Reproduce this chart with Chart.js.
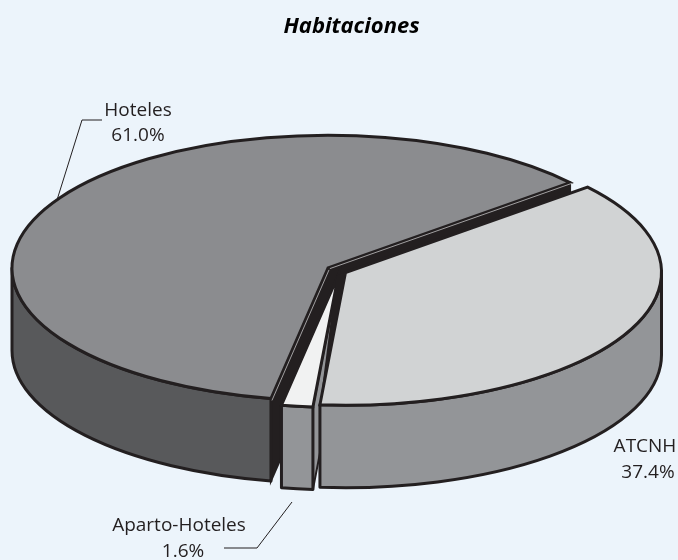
<!DOCTYPE html>
<html>
<head>
<meta charset="utf-8">
<style>
  html, body { margin: 0; padding: 0; background: #ecf4fb; }
  canvas { display: block; }
</style>
<script src="https://cdn.jsdelivr.net/npm/chart.js@4/dist/chart.umd.min.js"></script>
</head>
<body>
<canvas id="pieChart" width="678" height="560"></canvas>
<script>
const categories = ['ATCNH', 'Aparto-Hoteles', 'Hoteles'];
const shares = [37.4, 1.6, 61.0];
const titleText = 'Habitaciones';

const ink = '#231f20';
const textFont = '"Open Sans", "Noto Sans", sans-serif';

// the pie is flattened with a canvas transform, walls are drawn around it
const tilt = 0.42;
const wallHeight = 82.5;
// where each slice's tip sits on the page (exploded slices)
const tips = [[345.5, 272.5], [338.5, 274.6], [328, 268]];

function sliceGeom(arc, i) {
    const cx = tips[i][0];
    const cy = tips[i][1];
    const r = arc.outerRadius;
    return {
        cx, cy, r,
        a0: arc.startAngle,
        a1: arc.endAngle,
        rim: a => [cx + r * Math.cos(a), cy + r * tilt * Math.sin(a)]
    };
}

function frontWall(ctx, g, fill) {
    const a0 = Math.max(g.a0, 0);
    const a1 = Math.min(g.a1, Math.PI);
    if (a1 <= a0) return;
    ctx.beginPath();
    ctx.ellipse(g.cx, g.cy, g.r, g.r * tilt, 0, a0, a1);
    ctx.ellipse(g.cx, g.cy + wallHeight, g.r, g.r * tilt, 0, a1, a0, true);
    ctx.closePath();
    ctx.fillStyle = fill;
    ctx.fill();
    ctx.lineWidth = 3;
    ctx.strokeStyle = ink;
    ctx.lineJoin = 'round';
    ctx.stroke();
}

function cutFace(ctx, g, angle, fill) {
    const p = g.rim(angle);
    ctx.beginPath();
    ctx.moveTo(g.cx, g.cy);
    ctx.lineTo(p[0], p[1]);
    ctx.lineTo(p[0], p[1] + wallHeight);
    ctx.lineTo(g.cx, g.cy + wallHeight);
    ctx.closePath();
    ctx.fillStyle = fill;
    ctx.fill();
    ctx.lineWidth = 2;
    ctx.strokeStyle = ink;
    ctx.stroke();
}

function topOutline(ctx, g) {
    ctx.beginPath();
    ctx.moveTo(g.cx, g.cy);
    ctx.ellipse(g.cx, g.cy, g.r, g.r * tilt, 0, g.a0, g.a1);
    ctx.closePath();
    ctx.lineWidth = 3;
    ctx.strokeStyle = ink;
    ctx.lineJoin = 'miter';
    ctx.stroke();
}

function lightEdge(ctx, g, angle) {
    const p = g.rim(angle);
    const nx = angle > 2 ? 1.9 : 1;
    const ny = angle > 2 ? 0.6 : 1.9;
    ctx.beginPath();
    ctx.moveTo(g.cx + nx, g.cy + ny);
    ctx.lineTo(p[0] + nx, p[1] + ny);
    ctx.lineWidth = 0.7;
    ctx.strokeStyle = '#d8d9da';
    ctx.stroke();
}

function leader(ctx, pts) {
    ctx.beginPath();
    pts.forEach((p, i) => i ? ctx.lineTo(p[0], p[1]) : ctx.moveTo(p[0], p[1]));
    ctx.lineWidth = 1;
    ctx.strokeStyle = ink;
    ctx.stroke();
}

function label(ctx, text, x, y) {
    ctx.font = '19px ' + textFont;
    ctx.fillStyle = ink;
    ctx.textAlign = 'center';
    ctx.textBaseline = 'alphabetic';
    ctx.fillText(text, x, y);
}

function drawTop(ctx, arc, g) {
    ctx.save();
    ctx.translate(g.cx, g.cy);
    ctx.scale(1, tilt);
    ctx.translate(-arc.x, -arc.y);
    arc.draw(ctx);
    ctx.restore();
}

const pie3d = {
    id: 'pie3d',
    // takes over the dataset drawing, each slice has its own tip and transform
    beforeDatasetsDraw(chart) {
        const ctx = chart.ctx;
        const arcs = chart.getDatasetMeta(0).data;
        const atcnh = sliceGeom(arcs[0], 0);
        const aparto = sliceGeom(arcs[1], 1);
        const hoteles = sliceGeom(arcs[2], 2);

        // back to front
        cutFace(ctx, hoteles, hoteles.a1, ink);
        cutFace(ctx, hoteles, hoteles.a0, ink);
        frontWall(ctx, hoteles, '#58595b');
        cutFace(ctx, aparto, aparto.a0, '#939598');
        frontWall(ctx, aparto, '#939598');
        frontWall(ctx, atcnh, '#939598');

        drawTop(ctx, arcs[2], hoteles);
        drawTop(ctx, arcs[1], aparto);
        drawTop(ctx, arcs[0], atcnh);

        topOutline(ctx, hoteles);
        topOutline(ctx, aparto);
        topOutline(ctx, atcnh);
        lightEdge(ctx, hoteles, hoteles.a1);
        lightEdge(ctx, hoteles, hoteles.a0);

        // dark wedge beside the tip of the ATCNH slice
        const tip = atcnh.rim(atcnh.a1);
        ctx.beginPath();
        ctx.moveTo(atcnh.cx, atcnh.cy);
        ctx.lineTo(atcnh.cx - 9, atcnh.cy + 3);
        ctx.lineTo(tip[0], tip[1]);
        ctx.closePath();
        ctx.fillStyle = ink;
        ctx.fill();

        leader(ctx, [[102, 120], [82, 120], [57, 200]]);
        leader(ctx, [[224, 548], [257, 548], [292, 502]]);

        const pct = i => shares[i].toFixed(1) + '%';
        label(ctx, categories[2], 138, 116);
        label(ctx, pct(2), 138, 141);
        label(ctx, categories[1], 179, 531);
        label(ctx, pct(1), 183, 557);
        label(ctx, categories[0], 645, 452);
        label(ctx, pct(0), 648, 478);
        return false;
    }
};

new Chart(document.getElementById('pieChart'), {
    type: 'pie',
    data: {
        labels: categories,
        datasets: [{
            data: shares,
            backgroundColor: ['#d1d3d4', '#f1f2f2', '#8b8c8f'],
            borderWidth: 0,
            radius: 316
        }]
    },
    options: {
        responsive: false,
        animation: false,
        rotation: 50,
        layout: { padding: { left: 25 } },
        events: [],
        plugins: {
            legend: { display: false },
            tooltip: { enabled: false },
            title: {
                display: true,
                text: titleText,
                color: '#000000',
                padding: { top: 14, bottom: 4 },
                font: { family: textFont, size: 22, weight: 'bold', style: 'italic' }
            }
        }
    },
    plugins: [pie3d]
});
</script>
</body>
</html>
